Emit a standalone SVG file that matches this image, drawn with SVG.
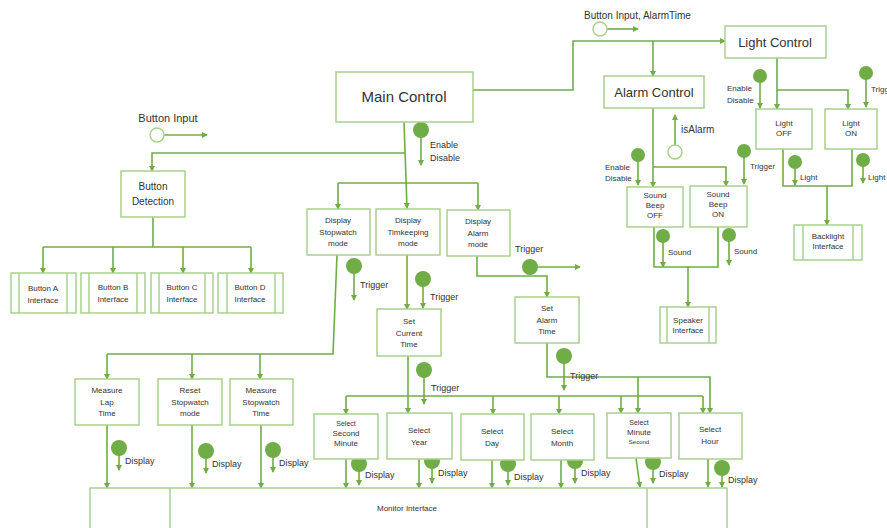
<svg xmlns="http://www.w3.org/2000/svg" width="887" height="528" viewBox="0 0 887 528">
<defs>
<marker id="ah" markerUnits="userSpaceOnUse" markerWidth="6" markerHeight="6" refX="5" refY="3" orient="auto">
<path d="M0,0 L6,3 L0,6 z" fill="#70ad47"/>
</marker>
<style>
.box{fill:#fff;stroke:#a9d18e;stroke-width:1.5}
.ln{stroke:#70ad47;stroke-width:1.6;fill:none}
.a{marker-end:url(#ah)}
.dot{fill:#70ad47}
.hol{fill:#fff;stroke:#a9d18e;stroke-width:1.5}
text{font-family:"Liberation Sans",Arial,sans-serif;fill:#333}
.c{text-anchor:middle}
.s7{font-size:7px}
.s8{font-size:8px}
.s9{font-size:9px}
.s10{font-size:10px}
.s11{font-size:11px}
.s13{font-size:13px}
.s15{font-size:15px}
</style>
</defs>
<rect width="887" height="528" fill="#fff"/>

<g id="connectors">
<line class="ln a" x1="607" y1="29" x2="638" y2="29"/>
<line class="ln a" x1="164" y1="135" x2="207" y2="135"/>
<polyline class="ln" points="473,90 573,90 573,41 653,41"/>
<line class="ln a" x1="653" y1="41" x2="725" y2="41"/>
<line class="ln a" x1="653" y1="41" x2="653" y2="76"/>
<line class="ln a" x1="675" y1="145" x2="675" y2="115"/>
<line class="ln a" x1="653" y1="108" x2="653" y2="187"/>
<polyline class="ln a" points="653,167 726,167 726,186"/>
<line class="ln a" x1="638" y1="155" x2="638" y2="185"/>
<line class="ln a" x1="744" y1="151" x2="744" y2="184"/>
<polyline class="ln" points="654,227 654,267 718,267 718,227"/>
<line class="ln a" x1="688" y1="267" x2="688" y2="307"/>
<line class="ln a" x1="663" y1="236" x2="663" y2="267"/>
<line class="ln a" x1="729" y1="235" x2="729" y2="265"/>
<line class="ln a" x1="777" y1="58" x2="777" y2="109"/>
<polyline class="ln a" points="777,90 848,90 848,109"/>
<line class="ln a" x1="760" y1="76" x2="760" y2="108"/>
<line class="ln a" x1="866" y1="73" x2="866" y2="107"/>
<polyline class="ln" points="783,149 783,186 852,186 852,149"/>
<line class="ln a" x1="827" y1="186" x2="827" y2="225"/>
<line class="ln a" x1="795" y1="162" x2="795" y2="185"/>
<line class="ln a" x1="863" y1="160" x2="863" y2="183"/>
<polyline class="ln a" points="404,122 407,208"/>
<line class="ln a" x1="421" y1="130" x2="421" y2="165"/>
<polyline class="ln a" points="405,153 152,153 152,171"/>
<polyline class="ln" points="338,183 478,183"/>
<line class="ln a" x1="338" y1="183" x2="338" y2="209"/>
<line class="ln a" x1="478" y1="183" x2="478" y2="210"/>
<line class="ln" x1="153" y1="217" x2="153" y2="247"/>
<line class="ln" x1="43" y1="247" x2="251" y2="247"/>
<line class="ln a" x1="43" y1="247" x2="43" y2="273"/>
<line class="ln a" x1="113" y1="247" x2="113" y2="273"/>
<line class="ln a" x1="183" y1="247" x2="183" y2="273"/>
<line class="ln a" x1="251" y1="247" x2="251" y2="273"/>
<polyline class="ln" points="337,255 333,354 107,354"/>
<line class="ln a" x1="107" y1="354" x2="107" y2="379"/>
<line class="ln a" x1="192" y1="354" x2="192" y2="379"/>
<line class="ln a" x1="260" y1="354" x2="260" y2="379"/>
<line class="ln a" x1="354" y1="266" x2="354" y2="300"/>
<line class="ln a" x1="107" y1="425" x2="107" y2="488"/>
<line class="ln a" x1="192" y1="425" x2="192" y2="488"/>
<line class="ln a" x1="261" y1="425" x2="261" y2="488"/>
<line class="ln a" x1="119" y1="448" x2="119" y2="470"/>
<line class="ln a" x1="206" y1="451" x2="206" y2="473"/>
<line class="ln a" x1="273" y1="450" x2="273" y2="472"/>
<line class="ln a" x1="407" y1="255" x2="407" y2="309"/>
<line class="ln a" x1="423" y1="279" x2="423" y2="308"/>
<polyline class="ln a" points="477,256 477,276 547,276 547,297"/>
<line class="ln a" x1="538" y1="267" x2="580" y2="267"/>
<polyline class="ln a" points="547,343 547,377 710,377 710,413"/>
<line class="ln a" x1="638" y1="377" x2="638" y2="413"/>
<line class="ln a" x1="564" y1="356" x2="564" y2="390"/>
<line class="ln a" x1="408" y1="356" x2="408" y2="413"/>
<line class="ln a" x1="424" y1="370" x2="424" y2="404"/>
<polyline class="ln" points="346,396 703,396"/>
<line class="ln a" x1="346" y1="396" x2="346" y2="414"/>
<line class="ln a" x1="493" y1="396" x2="493" y2="414"/>
<line class="ln a" x1="559" y1="396" x2="559" y2="414"/>
<line class="ln a" x1="621" y1="396" x2="621" y2="413"/>
<line class="ln a" x1="703" y1="396" x2="703" y2="413"/>
<line class="ln a" x1="346" y1="459" x2="346" y2="488"/>
<line class="ln a" x1="359" y1="464" x2="359" y2="485"/>
<line class="ln a" x1="419" y1="459" x2="419" y2="488"/>
<line class="ln a" x1="432" y1="461" x2="432" y2="483"/>
<line class="ln a" x1="492" y1="460" x2="492" y2="488"/>
<line class="ln a" x1="508" y1="464" x2="508" y2="485"/>
<line class="ln a" x1="561" y1="460" x2="561" y2="488"/>
<line class="ln a" x1="575" y1="461" x2="575" y2="483"/>
<line class="ln a" x1="636" y1="458" x2="640" y2="487"/>
<line class="ln a" x1="653" y1="462" x2="653" y2="483"/>
<line class="ln a" x1="708" y1="459" x2="708" y2="487"/>
<line class="ln a" x1="722" y1="468" x2="722" y2="487"/>
</g>

<g id="signals">
<circle class="hol" cx="600" cy="29" r="7"/>
<circle class="hol" cx="157" cy="135" r="7"/>
<circle class="hol" cx="675" cy="152" r="7"/>
<circle class="dot" cx="638" cy="155" r="7"/>
<circle class="dot" cx="744" cy="151" r="7"/>
<circle class="dot" cx="663" cy="236" r="7"/>
<circle class="dot" cx="729" cy="235" r="7"/>
<circle class="dot" cx="760" cy="76" r="7"/>
<circle class="dot" cx="866" cy="73" r="7"/>
<circle class="dot" cx="795" cy="162" r="7"/>
<circle class="dot" cx="863" cy="160" r="7"/>
<circle class="dot" cx="421" cy="130" r="8"/>
<circle class="dot" cx="354" cy="266" r="8"/>
<circle class="dot" cx="423" cy="279" r="8"/>
<circle class="dot" cx="530" cy="267" r="8"/>
<circle class="dot" cx="564" cy="356" r="8"/>
<circle class="dot" cx="424" cy="370" r="8"/>
<circle class="dot" cx="119" cy="448" r="8"/>
<circle class="dot" cx="206" cy="451" r="8"/>
<circle class="dot" cx="273" cy="450" r="8"/>
<circle class="dot" cx="359" cy="464" r="8"/>
<circle class="dot" cx="432" cy="461" r="8"/>
<circle class="dot" cx="508" cy="464" r="8"/>
<circle class="dot" cx="575" cy="461" r="8"/>
<circle class="dot" cx="653" cy="462" r="8"/>
<circle class="dot" cx="722" cy="468" r="8"/>
</g>

<g id="labels">
<text class="s10" x="584" y="19">Button Input, AlarmTime</text>
<text class="s11 c" x="168" y="122">Button Input</text>
<text class="s10" x="681" y="133">isAlarm</text>
<text class="s8" x="605" y="170">Enable</text>
<text class="s8" x="605" y="181">Disable</text>
<text class="s8" x="750" y="169">Trigger</text>
<text class="s8" x="668" y="255">Sound</text>
<text class="s8" x="734" y="254">Sound</text>
<text class="s8" x="727" y="91">Enable</text>
<text class="s8" x="727" y="103">Disable</text>
<text class="s8" x="871" y="92">Trigger</text>
<text class="s8" x="800" y="180">Light</text>
<text class="s8" x="868" y="180">Light</text>
<text class="s9" x="430" y="148">Enable</text>
<text class="s9" x="430" y="161">Disable</text>
<text class="s9" x="360" y="288">Trigger</text>
<text class="s9" x="430" y="300">Trigger</text>
<text class="s9" x="515" y="252">Trigger</text>
<text class="s9" x="570" y="379">Trigger</text>
<text class="s9" x="431" y="391">Trigger</text>
<text class="s9" x="125" y="464">Display</text>
<text class="s9" x="212" y="467">Display</text>
<text class="s9" x="279" y="466">Display</text>
<text class="s9" x="365" y="478">Display</text>
<text class="s9" x="438" y="476">Display</text>
<text class="s9" x="514" y="480">Display</text>
<text class="s9" x="581" y="476">Display</text>
<text class="s9" x="659" y="477">Display</text>
<text class="s9" x="728" y="483">Display</text>
</g>

<g id="main-control"><rect class="box" x="336" y="72" width="137" height="50"/><text class="s15 c" x="404" y="102">Main Control</text></g>
<g id="light-control"><rect class="box" x="725" y="26" width="101" height="32"/><text class="s13 c" x="775" y="47">Light Control</text></g>
<g id="alarm-control"><rect class="box" x="604" y="76" width="100" height="32"/><text class="s13 c" x="654" y="97">Alarm Control</text></g>

<g id="sound-beep-off"><rect class="box" x="627" y="187" width="56" height="40"/><text class="s8 c" x="655" y="198">Sound</text><text class="s8 c" x="655" y="208">Beep</text><text class="s8 c" x="655" y="218">OFF</text></g>
<g id="sound-beep-on"><rect class="box" x="690" y="186" width="57" height="41"/><text class="s8 c" x="718" y="197">Sound</text><text class="s8 c" x="718" y="207">Beep</text><text class="s8 c" x="718" y="217">ON</text></g>
<g id="speaker-interface"><rect class="box" x="660" y="307" width="56" height="36"/><line class="box" x1="667" y1="307" x2="667" y2="343"/><line class="box" x1="709" y1="307" x2="709" y2="343"/><text class="s8 c" x="688" y="323">Speaker</text><text class="s8 c" x="688" y="333">Interface</text></g>

<g id="light-off"><rect class="box" x="756" y="109" width="56" height="40"/><text class="s8 c" x="784" y="126">Light</text><text class="s8 c" x="784" y="136">OFF</text></g>
<g id="light-on"><rect class="box" x="825" y="109" width="52" height="40"/><text class="s8 c" x="851" y="126">Light</text><text class="s8 c" x="851" y="136">ON</text></g>
<g id="backlight-interface"><rect class="box" x="794" y="225" width="68" height="35"/><line class="box" x1="803" y1="225" x2="803" y2="260"/><line class="box" x1="853" y1="225" x2="853" y2="260"/><text class="s8 c" x="828" y="239">Backlight</text><text class="s8 c" x="828" y="249">Interface</text></g>

<g id="button-detection"><rect class="box" x="121" y="171" width="64" height="46"/><text class="s10 c" x="153" y="190">Button</text><text class="s10 c" x="153" y="205">Detection</text></g>
<g id="button-a"><rect class="box" x="11" y="273" width="65" height="40"/><line class="box" x1="19" y1="273" x2="19" y2="313"/><line class="box" x1="67" y1="273" x2="67" y2="313"/><text class="s8 c" x="43" y="291">Button A</text><text class="s8 c" x="43" y="303">Interface</text></g>
<g id="button-b"><rect class="box" x="81" y="273" width="64" height="40"/><line class="box" x1="89" y1="273" x2="89" y2="313"/><line class="box" x1="137" y1="273" x2="137" y2="313"/><text class="s8 c" x="113" y="290">Button B</text><text class="s8 c" x="113" y="302">Interface</text></g>
<g id="button-c"><rect class="box" x="151" y="273" width="62" height="40"/><line class="box" x1="159" y1="273" x2="159" y2="313"/><line class="box" x1="205" y1="273" x2="205" y2="313"/><text class="s8 c" x="182" y="290">Button C</text><text class="s8 c" x="182" y="302">Interface</text></g>
<g id="button-d"><rect class="box" x="218" y="273" width="65" height="40"/><line class="box" x1="227" y1="273" x2="227" y2="313"/><line class="box" x1="275" y1="273" x2="275" y2="313"/><text class="s8 c" x="250" y="290">Button D</text><text class="s8 c" x="250" y="302">Interface</text></g>

<g id="display-stopwatch"><rect class="box" x="307" y="209" width="63" height="46"/><text class="s8 c" x="338" y="223">Display</text><text class="s8 c" x="338" y="235">Stopwatch</text><text class="s8 c" x="338" y="246">mode</text></g>
<g id="display-timekeeping"><rect class="box" x="376" y="209" width="64" height="46"/><text class="s8 c" x="408" y="223">Display</text><text class="s8 c" x="408" y="235">Timkeeping</text><text class="s8 c" x="408" y="246">mode</text></g>
<g id="display-alarm"><rect class="box" x="447" y="210" width="63" height="46"/><text class="s8 c" x="478" y="224">Display</text><text class="s8 c" x="478" y="236">Alarm</text><text class="s8 c" x="478" y="247">mode</text></g>

<g id="set-current-time"><rect class="box" x="377" y="309" width="64" height="47"/><text class="s8 c" x="409" y="324">Set</text><text class="s8 c" x="409" y="336">Current</text><text class="s8 c" x="409" y="347">Time</text></g>
<g id="set-alarm-time"><rect class="box" x="515" y="297" width="64" height="46"/><text class="s8 c" x="547" y="311">Set</text><text class="s8 c" x="547" y="323">Alarm</text><text class="s8 c" x="547" y="334">Time</text></g>

<g id="measure-lap"><rect class="box" x="75" y="379" width="64" height="46"/><text class="s8 c" x="107" y="393">Measure</text><text class="s8 c" x="107" y="405">Lap</text><text class="s8 c" x="107" y="416">Time</text></g>
<g id="reset-stopwatch"><rect class="box" x="158" y="379" width="64" height="46"/><text class="s8 c" x="190" y="393">Reset</text><text class="s8 c" x="190" y="405">Stopwatch</text><text class="s8 c" x="190" y="416">mode</text></g>
<g id="measure-stopwatch"><rect class="box" x="230" y="379" width="63" height="46"/><text class="s8 c" x="261" y="393">Measure</text><text class="s8 c" x="261" y="405">Stopwatch</text><text class="s8 c" x="261" y="416">Time</text></g>

<g id="select-second-minute"><rect class="box" x="314" y="414" width="64" height="45"/><text class="s7 c" x="346" y="426">Select</text><text class="s8 c" x="346" y="436">Second</text><text class="s8 c" x="346" y="446">Minute</text></g>
<g id="select-year"><rect class="box" x="387" y="413" width="65" height="46"/><text class="s8 c" x="419" y="433">Select</text><text class="s8 c" x="419" y="445">Year</text></g>
<g id="select-day"><rect class="box" x="461" y="414" width="63" height="46"/><text class="s8 c" x="492" y="434">Select</text><text class="s8 c" x="492" y="446">Day</text></g>
<g id="select-month"><rect class="box" x="531" y="414" width="63" height="46"/><text class="s8 c" x="562" y="434">Select</text><text class="s8 c" x="562" y="446">Month</text></g>
<g id="select-minute-second"><rect class="box" x="607" y="413" width="64" height="45"/><text class="s7 c" x="639" y="425">Select</text><text class="s8 c" x="639" y="435">Minute</text><text class="c" style="font-size:6px" x="639" y="444">Second</text></g>
<g id="select-hour"><rect class="box" x="679" y="413" width="63" height="46"/><text class="s8 c" x="710" y="432">Select</text><text class="s8 c" x="710" y="444">Hour</text></g>

<g id="monitor-interface"><rect class="box" x="90" y="488" width="637" height="60"/><line class="box" x1="170" y1="488" x2="170" y2="528"/><line class="box" x1="647" y1="488" x2="647" y2="528"/><text class="s8 c" x="407" y="511">Monitor Interface</text></g>
</svg>
